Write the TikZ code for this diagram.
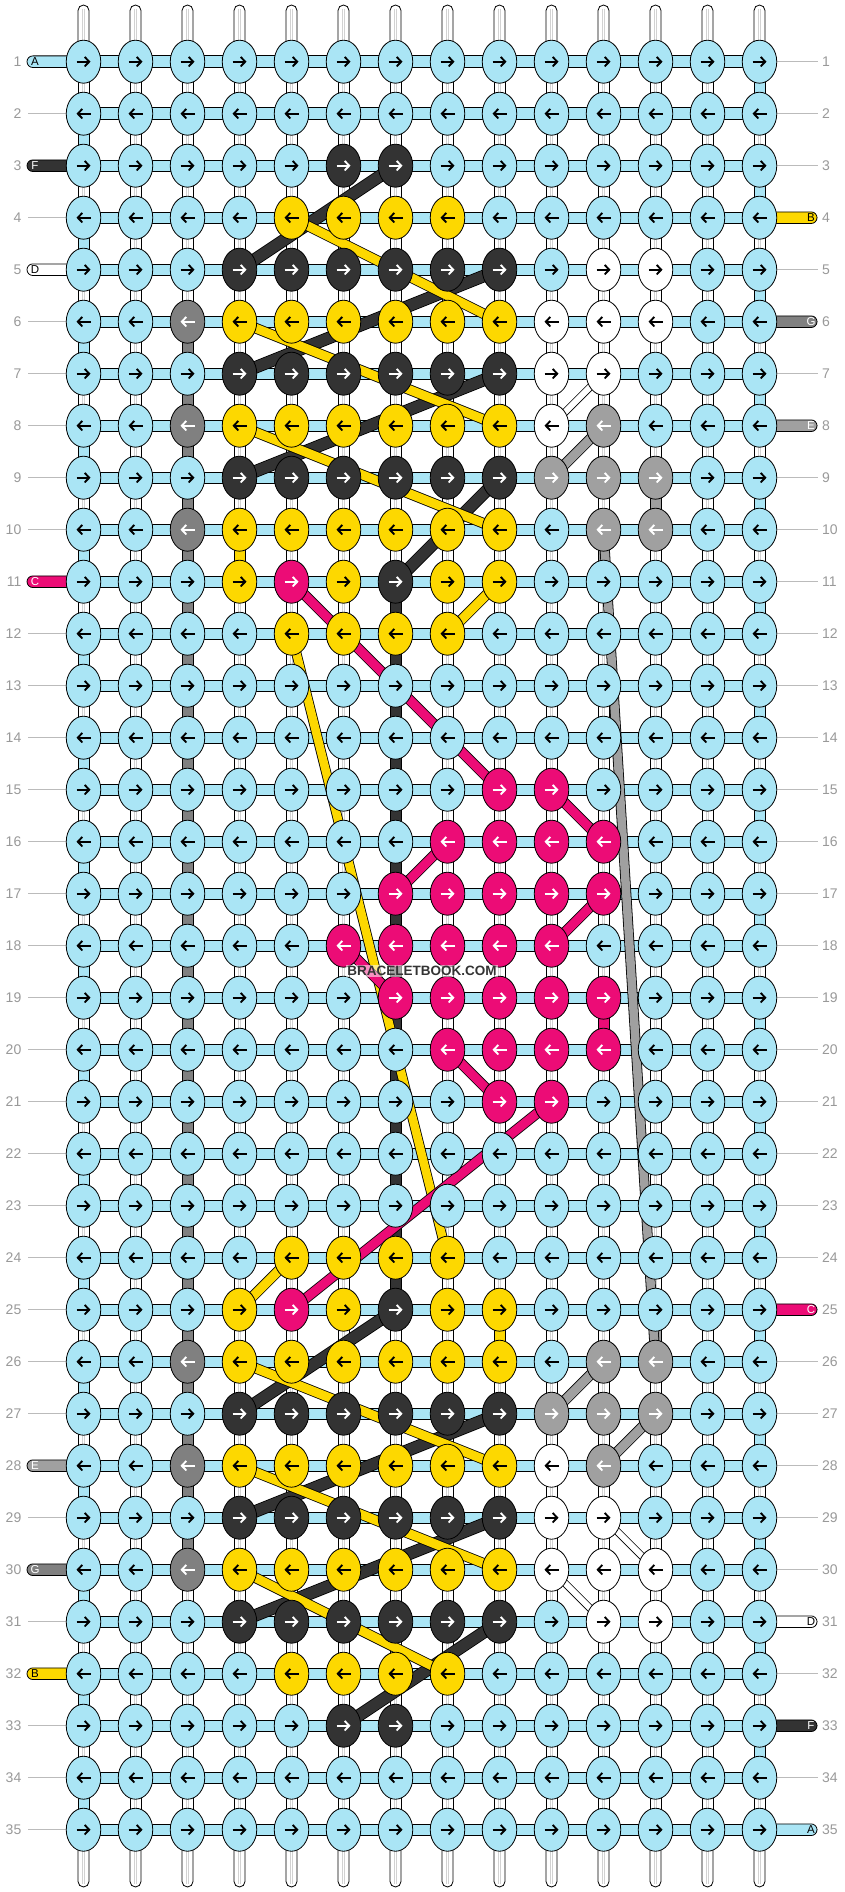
\documentclass[tikz,border=0pt]{standalone}
\usepackage{fontspec}
\setmainfont{Liberation Sans}
\usetikzlibrary{shapes.geometric,arrows.meta,calc}
\definecolor{lb}{HTML}{AAE5F5}
\definecolor{yl}{HTML}{FDD800}
\definecolor{dk}{HTML}{333333}
\definecolor{pk}{HTML}{EC0C76}
\definecolor{gE}{HTML}{A0A0A0}
\definecolor{gG}{HTML}{808080}
\definecolor{wh}{HTML}{FFFFFF}
\definecolor{lbl}{HTML}{999999}
\definecolor{thinc}{HTML}{BBBBBB}
\newcommand\knotrow[3]{\foreach \cc in {#2}{\expandafter\gdef\csname kc-#1-\cc\endcsname{#3}}}
\expandafter\def\csname ac-dk\endcsname{}
\expandafter\def\csname ac-pk\endcsname{}
\expandafter\def\csname ac-gE\endcsname{}
\expandafter\def\csname ac-gG\endcsname{}
\knotrow{3}{6,7}{dk}
\knotrow{4}{5,6,7,8}{yl}
\knotrow{5}{4,5,6,7,8,9}{dk}\knotrow{5}{11,12}{wh}
\knotrow{6}{3}{gG}\knotrow{6}{4,5,6,7,8,9}{yl}\knotrow{6}{10,11,12}{wh}
\knotrow{7}{4,5,6,7,8,9}{dk}\knotrow{7}{10,11}{wh}
\knotrow{8}{3}{gG}\knotrow{8}{4,5,6,7,8,9}{yl}\knotrow{8}{10}{wh}\knotrow{8}{11}{gE}
\knotrow{9}{4,5,6,7,8,9}{dk}\knotrow{9}{10,11,12}{gE}
\knotrow{10}{3}{gG}\knotrow{10}{4,5,6,7,8,9}{yl}\knotrow{10}{11,12}{gE}
\knotrow{11}{4,6,8,9}{yl}\knotrow{11}{5}{pk}\knotrow{11}{7}{dk}
\knotrow{12}{5,6,7,8}{yl}
\knotrow{15}{9,10}{pk}
\knotrow{16}{8,9,10,11}{pk}
\knotrow{17}{7,8,9,10,11}{pk}
\knotrow{18}{6,7,8,9,10}{pk}
\knotrow{19}{7,8,9,10,11}{pk}
\knotrow{20}{8,9,10,11}{pk}
\knotrow{21}{9,10}{pk}
\knotrow{24}{5,6,7,8}{yl}
\knotrow{25}{4,6,8,9}{yl}\knotrow{25}{5}{pk}\knotrow{25}{7}{dk}
\knotrow{26}{3}{gG}\knotrow{26}{4,5,6,7,8,9}{yl}\knotrow{26}{11,12}{gE}
\knotrow{27}{4,5,6,7,8,9}{dk}\knotrow{27}{10,11,12}{gE}
\knotrow{28}{3}{gG}\knotrow{28}{4,5,6,7,8,9}{yl}\knotrow{28}{10}{wh}\knotrow{28}{11}{gE}
\knotrow{29}{4,5,6,7,8,9}{dk}\knotrow{29}{10,11}{wh}
\knotrow{30}{3}{gG}\knotrow{30}{4,5,6,7,8,9}{yl}\knotrow{30}{10,11,12}{wh}
\knotrow{31}{4,5,6,7,8,9}{dk}\knotrow{31}{11,12}{wh}
\knotrow{32}{5,6,7,8}{yl}
\knotrow{33}{6,7}{dk}
\newcommand\seg[3]{\draw[segst,fill=#3] ($(P-#1-#2)+(-5.5,15)$) rectangle ($(P-#1-#2)+(5.5,37)$);}
\newcommand\thr[4]{\draw[line width=0.8pt,draw=black,double=#3,double distance=#4pt] (P-#1) -- (P-#2);}
\begin{document}
\begin{tikzpicture}[x=1pt,y=-1pt,
  knot/.style={ellipse,draw=black,line width=0.8pt,minimum width=34.5pt,minimum height=43pt,inner sep=0pt},
  rodst/.style={fill=white,draw=black,line width=0.8pt},
  segst/.style={draw=black,line width=0.8pt},
  arr/.style={line width=1.9pt,-{Straight Barb[length=4.5pt,width=9.5pt]}},
  thinl/.style={draw=thinc,line width=0.8pt},
  lab/.style={text=lbl,font=\fontsize{14}{14}\selectfont,inner sep=0pt},
  pill/.style={draw=black,line width=0.8pt,rounded corners=5.8pt},
  pl/.style={font=\fontsize{11.5}{11.5}\selectfont,inner sep=0pt}]
\fill[white] (0,0) rectangle (844,1892);
\useasboundingbox (0,0) rectangle (844,1892);
% grid coordinates
\foreach \r in {1,...,35}{\foreach \c in {1,...,14}{
  \coordinate (P-\r-\c) at ({83.5+52*(\c-1)},{61.7+52*(\r-1)});
}}
% top and bottom rods
\foreach \c in {1,...,14}{
  \draw[rodst,rounded corners=5.5pt] ($(P-1-\c)+(-5.5,-56.7)$) rectangle ($(P-1-\c)+(5.5,0)$);
  \draw[gray!35,line width=0.5pt] ($(P-1-\c)+(-1.2,-53)$) -- ($(P-1-\c)+(-1.2,-18)$);
  \draw[gray!35,line width=0.5pt] ($(P-1-\c)+(1.2,-53)$) -- ($(P-1-\c)+(1.2,-18)$);
  \draw[rodst,rounded corners=5.5pt] ($(P-35-\c)+(-5.5,0)$) rectangle ($(P-35-\c)+(5.5,57.3)$);
  \draw[gray!35,line width=0.5pt] ($(P-35-\c)+(-1.2,18)$) -- ($(P-35-\c)+(-1.2,54)$);
  \draw[gray!35,line width=0.5pt] ($(P-35-\c)+(1.2,18)$) -- ($(P-35-\c)+(1.2,54)$);
}
% rods between rows
\foreach \r in {1,...,34}{\foreach \c in {1,...,14}{
  \draw[rodst] ($(P-\r-\c)+(-5.5,15)$) rectangle ($(P-\r-\c)+(5.5,37)$);
  \draw[gray!35,line width=0.5pt] ($(P-\r-\c)+(-1.2,15)$) -- ($(P-\r-\c)+(-1.2,37)$);
  \draw[gray!35,line width=0.5pt] ($(P-\r-\c)+(1.2,15)$) -- ($(P-\r-\c)+(1.2,37)$);
}}
% coloured vertical segments
\foreach \r in {2,4,...,34}{\seg{\r}{1}{lb}}
\foreach \r in {1,3,...,33}{\seg{\r}{14}{lb}}
\foreach \r in {6,...,29}{\seg{\r}{3}{gG}}
\foreach \r in {11,...,24}{\seg{\r}{7}{dk}}
\seg{10}{4}{yl}\seg{25}{9}{yl}\seg{10}{11}{gE}\seg{9}{12}{gE}\seg{25}{12}{gE}\seg{19}{11}{pk}
% horizontal working strings
\foreach \r in {1,...,35}{
  \draw[segst,fill=lb] ($(P-\r-1)+(0,-5.8)$) rectangle ($(P-\r-14)+(0,5.8)$);
}
% thin lines, labels
\foreach \r in {1,...,35}{
  \draw[thinl] ($(P-\r-1)+(-55.5,0)$) -- ($(P-\r-1)+(-17,0)$);
  \draw[thinl] ($(P-\r-14)+(17,0)$) -- ($(P-\r-14)+(58.5,0)$);
  \node[lab,anchor=east] (ll-\r) at ($(P-\r-1)+(-62,0)$) {\r};
  \node[lab,anchor=west] (rl-\r) at ($(P-\r-14)+(62.5,0)$) {\r};
}
% pills
\foreach \r/\l/\col/\tc in {1/A/lb/black,3/F/dk/white,5/D/wh/black,11/C/pk/white,28/E/gE/white,30/G/gG/white,32/B/yl/black}{
  \draw[pill,fill=\col] ($(P-\r-1)+(-56.5,-5.8)$) rectangle ($(P-\r-1)+(-8,5.8)$);
  \node[pl,text=\tc] (pll-\r) at ($(P-\r-1)+(-48.5,0.3)$) {\l};
}
\foreach \r/\l/\col/\tc in {4/B/yl/black,6/G/gG/white,8/E/gE/white,25/C/pk/white,31/D/wh/black,33/F/dk/white,35/A/lb/black}{
  \draw[pill,fill=\col] ($(P-\r-14)+(8,-5.8)$) rectangle ($(P-\r-14)+(57.5,5.8)$);
  \node[pl,text=\tc] (plr-\r) at ($(P-\r-14)+(51.5,0.3)$) {\l};
}
% floating threads
\thr{3-7}{5-4}{dk}{11}
\thr{5-9}{7-4}{dk}{11}
\thr{7-9}{9-4}{dk}{11}
\thr{9-9}{11-7}{dk}{11}
\thr{25-7}{27-4}{dk}{11}
\thr{27-9}{29-4}{dk}{11}
\thr{29-9}{31-4}{dk}{11}
\thr{31-9}{33-6}{dk}{11}
\thr{4-5}{6-9}{yl}{9}
\thr{6-4}{8-9}{yl}{9}
\thr{8-4}{10-9}{yl}{9}
\thr{11-9}{12-8}{yl}{9}
\thr{25-4}{24-5}{yl}{9}
\thr{26-4}{28-9}{yl}{9}
\thr{28-4}{30-9}{yl}{9}
\thr{30-4}{32-8}{yl}{9}
\thr{12-5}{24-8}{yl}{8.5}
\thr{11-5}{15-9}{pk}{9}
\thr{15-10}{16-11}{pk}{9}
\thr{16-8}{17-7}{pk}{9}
\thr{17-11}{18-10}{pk}{9}
\thr{18-6}{19-7}{pk}{9}
\thr{20-8}{21-9}{pk}{9}
\thr{21-10}{25-5}{pk}{9}
\thr{9-10}{8-11}{gE}{9}
\thr{27-10}{26-11}{gE}{9}
\thr{28-11}{27-12}{gE}{9}
\thr{10-11}{26-12}{gE}{8.5}
\thr{8-10}{7-11}{white}{6}
\thr{29-11}{30-12}{white}{6}
\thr{30-10}{31-11}{white}{6}
% knots
\foreach \r in {1,...,35}{\foreach \c in {1,...,14}{
  \ifcsname kc-\r-\c\endcsname\edef\kcol{\csname kc-\r-\c\endcsname}\else\def\kcol{lb}\fi
  \ifcsname ac-\kcol\endcsname\def\acol{white}\else\def\acol{black}\fi
  \node[knot,fill=\kcol] (k-\r-\c) at (P-\r-\c) {};
  \ifodd\r\relax
    \draw[arr,draw=\acol] ($(k-\r-\c)+(-7,0)$) -- ($(k-\r-\c)+(7,0)$);
  \else
    \draw[arr,draw=\acol] ($(k-\r-\c)+(7,0)$) -- ($(k-\r-\c)+(-7,0)$);
  \fi
}}
% watermark
\node[font=\bfseries\fontsize{13.5}{14}\selectfont,text=dk,fill=white,fill opacity=0.55,text opacity=1,inner sep=1pt] (wm) at (422,971) {BRACELETBOOK.COM};
\end{tikzpicture}
\end{document}
